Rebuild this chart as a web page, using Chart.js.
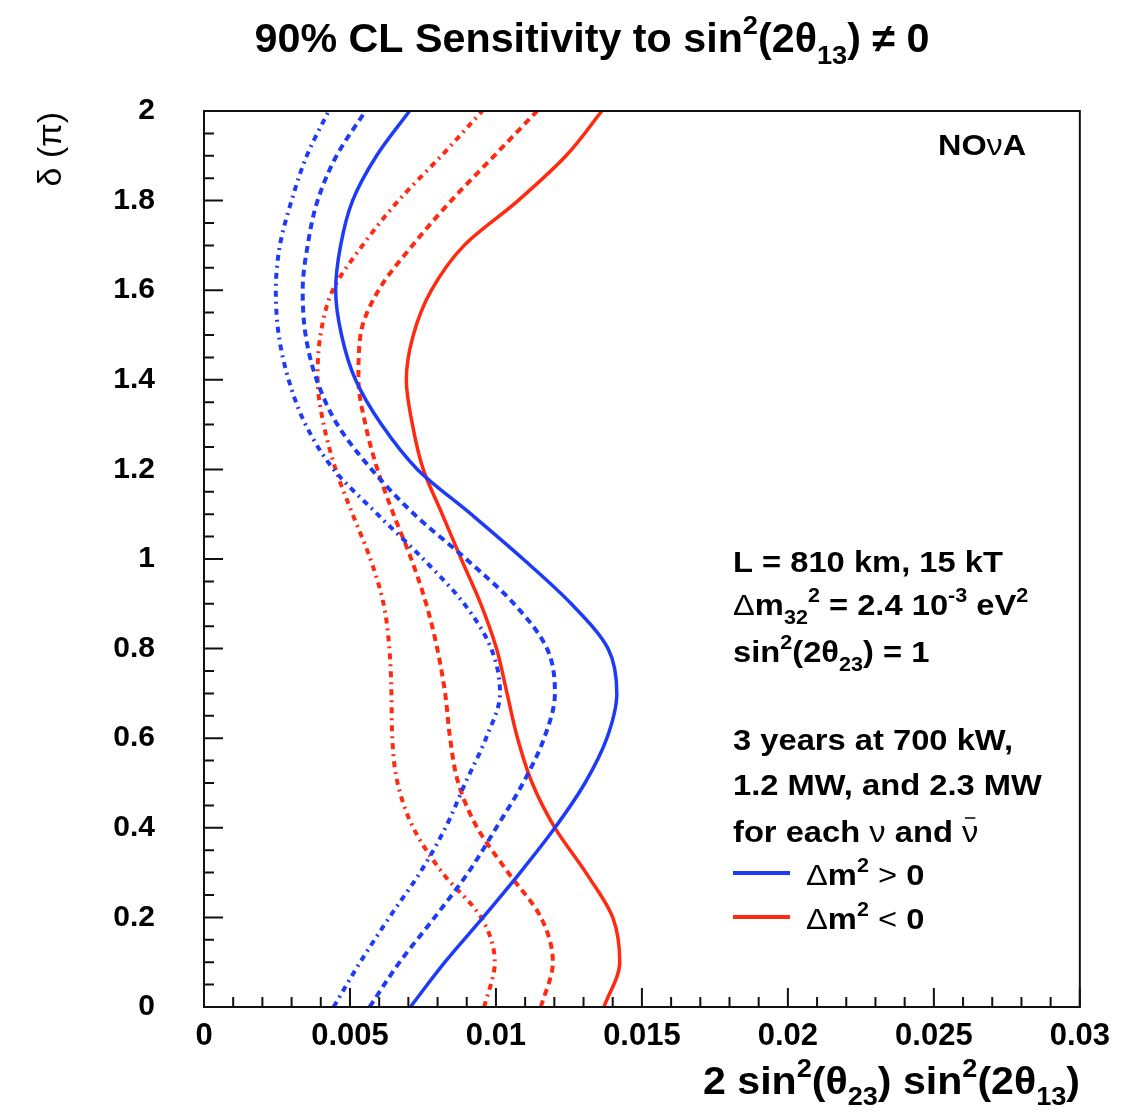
<!DOCTYPE html>
<html>
<head>
<meta charset="utf-8">
<script src="https://cdn.jsdelivr.net/npm/chart.js@4.4.1/dist/chart.umd.min.js"></script>
<style>
  html, body { margin: 0; padding: 0; background: #fff; }
</style>
</head>
<body>
<canvas id="myChart" width="1121" height="1112"></canvas>
<script>
// delta in units of pi (y axis)
const deltaPi = [0, 0.1, 0.2, 0.3, 0.4, 0.5, 0.6, 0.7, 0.8, 0.9, 1.0,
                 1.1, 1.2, 1.3, 1.4, 1.5, 1.6, 1.7, 1.8, 1.9, 2.0];

// 2 sin^2(theta23) sin^2(2 theta13) at each delta
const blueSolid = [0.00707, 0.00825, 0.00956, 0.01083, 0.01202, 0.01305, 0.01380, 0.01414, 0.01384, 0.01258, 0.01093,
                   0.00915, 0.00731, 0.00608, 0.00519, 0.00471, 0.00451, 0.00468, 0.00509, 0.00591, 0.00704];
const blueDashed = [0.00567, 0.00670, 0.00790, 0.00905, 0.01001, 0.01093, 0.01165, 0.01202, 0.01175, 0.01062, 0.00898,
                    0.00720, 0.00574, 0.00457, 0.00386, 0.00348, 0.00338, 0.00355, 0.00389, 0.00454, 0.00553];
const blueDashDot = [0.00444, 0.00535, 0.00635, 0.00740, 0.00827, 0.00895, 0.00966, 0.01014, 0.00984, 0.00891, 0.00751,
                     0.00594, 0.00444, 0.00348, 0.00290, 0.00256, 0.00246, 0.00260, 0.00300, 0.00352, 0.00427];
const redSolid = [0.01370, 0.01424, 0.01400, 0.01308, 0.01202, 0.01124, 0.01074, 0.01038, 0.01002, 0.00948, 0.00881,
                  0.00816, 0.00751, 0.00714, 0.00693, 0.00717, 0.00779, 0.00891, 0.01076, 0.01240, 0.01363];
const redDashed = [0.01154, 0.01195, 0.01154, 0.01042, 0.00936, 0.00871, 0.00843, 0.00826, 0.00799, 0.00761, 0.00710,
                   0.00649, 0.00594, 0.00553, 0.00529, 0.00536, 0.00598, 0.00714, 0.00847, 0.00994, 0.01141];
const redDashDot = [0.00960, 0.00996, 0.00949, 0.00816, 0.00717, 0.00663, 0.00645, 0.00642, 0.00635, 0.00615, 0.00570,
                    0.00509, 0.00451, 0.00410, 0.00389, 0.00399, 0.00441, 0.00543, 0.00666, 0.00813, 0.00953];

const xTickLabels = ["0", "0.005", "0.01", "0.015", "0.02", "0.025", "0.03"];
const yTickLabels = ["0", "0.2", "0.4", "0.6", "0.8", "1", "1.2", "1.4", "1.6", "1.8", "2"];

const BLUE = "#1e3cf8";
const RED = "#ff2a10";
const FONT = '"Liberation Sans", Arial, sans-serif';

function toPoints(vals) {
  return vals.map((v, i) => ({ x: v, y: deltaPi[i] }));
}

function curve(label, vals, color, dash, width) {
  return {
    label: label,
    data: toPoints(vals),
    borderColor: color,
    borderWidth: width,
    borderDash: dash,
    pointRadius: 0,
    fill: false,
    cubicInterpolationMode: "monotone",
  };
}

// rich text helpers (super/subscripts)
const N = (t) => ({ t, k: "n", w: "bold" });
const R = (t) => ({ t, k: "n", w: "normal" });
const SUP = (t) => ({ t, k: "sup", w: "bold" });
const SUB = (t) => ({ t, k: "sub", w: "bold" });

function fontFor(p, size) {
  const s = p.k === "n" ? size : size * 0.66;
  return p.w + " " + s + "px " + FONT;
}
function richWidth(ctx, parts, size) {
  let w = 0;
  parts.forEach((p) => {
    ctx.font = fontFor(p, size);
    w += ctx.measureText(p.t).width;
  });
  return w;
}
// sx: horizontal stretch of the text
function drawRich(ctx, parts, x, y, size, align, sx) {
  sx = sx || 1;
  const w = richWidth(ctx, parts, size) * sx;
  let x0 = x;
  if (align === "right") x0 = x - w;
  if (align === "center") x0 = x - w / 2;
  ctx.save();
  ctx.translate(x0, y);
  ctx.scale(sx, 1);
  ctx.textAlign = "left";
  ctx.textBaseline = "alphabetic";
  let cx = 0;
  parts.forEach((p) => {
    ctx.font = fontFor(p, size);
    const dy = p.k === "sup" ? -size * 0.45 : p.k === "sub" ? size * 0.3 : 0;
    ctx.fillText(p.t, cx, dy);
    cx += ctx.measureText(p.t).width;
  });
  ctx.restore();
  return x0 + w;
}

const decorPlugin = {
  id: "decor",
  afterDraw(chart) {
    const ctx = chart.ctx;
    const a = chart.chartArea;
    const xs = chart.scales.x;
    const ys = chart.scales.y;
    ctx.save();

    // frame
    ctx.strokeStyle = "#111";
    ctx.lineWidth = 2;
    ctx.strokeRect(a.left, a.top, a.right - a.left, a.bottom - a.top);

    // inner ticks
    ctx.beginPath();
    for (let i = 0; i <= 30; i++) {
      const px = xs.getPixelForValue(i * 0.001);
      const len = i % 5 === 0 ? 19 : 10;
      ctx.moveTo(px, a.bottom);
      ctx.lineTo(px, a.bottom - len);
    }
    for (let i = 0; i <= 40; i++) {
      const py = ys.getPixelForValue(i * 0.05);
      const len = i % 4 === 0 ? 19 : 10;
      ctx.moveTo(a.left, py);
      ctx.lineTo(a.left + len, py);
    }
    ctx.stroke();

    ctx.fillStyle = "#000";

    // title, fitted to the reference width
    const title = [N("90% CL Sensitivity to sin"), SUP("2"), N("(2θ"), SUB("13"), N(") ≠ 0")];
    const tsz = 40;
    drawRich(ctx, title, 592, 52, tsz, "center", 675 / richWidth(ctx, title, tsz));

    // x axis title
    const xt = [N("2 sin"), SUP("2"), N("(θ"), SUB("23"), N(") sin"), SUP("2"), N("(2θ"), SUB("13"), N(")")];
    const xsz = 38;
    drawRich(ctx, xt, 1080, 1094, xsz, "right", 377 / richWidth(ctx, xt, xsz));

    // y axis title
    ctx.save();
    ctx.translate(61, 112);
    ctx.rotate(-Math.PI / 2);
    drawRich(ctx, [R("δ (π)")], 0, 0, 34, "right");
    ctx.restore();

    // experiment label
    drawRich(ctx, [N("NO"), R("ν"), N("A")], 938, 155, 30, "left", 1.08);

    // parameter text
    const fs = 30;
    const sx = 1.09;
    const tx = 733;
    drawRich(ctx, [N("L = 810 km, 15 kT")], tx, 572, fs, "left", sx);
    drawRich(ctx, [R("Δ"), N("m"), SUB("32"), SUP("2"), N(" = 2.4 10"), SUP("-3"), N(" eV"), SUP("2")], tx, 615, fs, "left", sx);
    drawRich(ctx, [N("sin"), SUP("2"), N("(2θ"), SUB("23"), N(") = 1")], tx, 662, fs, "left", sx);
    drawRich(ctx, [N("3 years at 700 kW,")], tx, 750, fs, "left", sx);
    drawRich(ctx, [N("1.2 MW, and 2.3 MW")], tx, 795, fs, "left", sx);
    const ex = drawRich(ctx, [N("for each "), R("ν"), N(" and ")], tx, 842, fs, "left", sx);
    const ex2 = drawRich(ctx, [R("ν")], ex, 842, fs, "left", sx);
    ctx.lineWidth = 1.5;
    ctx.strokeStyle = "#000";
    ctx.beginPath();
    ctx.moveTo(ex + 3, 818);
    ctx.lineTo(ex2 - 3, 818);
    ctx.stroke();

    // legend
    const rows = [
      { color: BLUE, y: 873, parts: [R("Δ"), N("m"), SUP("2"), R(" > "), N("0")] },
      { color: RED, y: 917, parts: [R("Δ"), N("m"), SUP("2"), R(" < "), N("0")] },
    ];
    rows.forEach((r) => {
      ctx.strokeStyle = r.color;
      ctx.lineWidth = 4;
      ctx.beginPath();
      ctx.moveTo(733, r.y);
      ctx.lineTo(790, r.y);
      ctx.stroke();
      drawRich(ctx, r.parts, 806, r.y + 12, fs, "left", sx);
    });

    ctx.restore();
  },
};

const config = {
  type: "line",
  data: {
    datasets: [
      curve("Δm² > 0", blueSolid, BLUE, [], 3.5),
      curve("Δm² > 0 (dashed)", blueDashed, BLUE, [7, 5], 4),
      curve("Δm² > 0 (dash-dot)", blueDashDot, BLUE, [6, 5, 2, 5], 4),
      curve("Δm² < 0", redSolid, RED, [], 3.5),
      curve("Δm² < 0 (dashed)", redDashed, RED, [7, 5], 4),
      curve("Δm² < 0 (dash-dot)", redDashDot, RED, [6, 5, 2, 5], 4),
    ],
  },
  options: {
    responsive: false,
    animation: false,
    devicePixelRatio: 1,
    indexAxis: "y",
    layout: { padding: { top: 111, right: 38, left: 0, bottom: 0 } },
    plugins: {
      legend: { display: false },
      title: { display: false },
      tooltip: { enabled: false },
    },
    scales: {
      x: {
        type: "linear",
        min: 0,
        max: 0.03,
        grid: { display: false, drawTicks: false, tickLength: 0 },
        border: { display: false },
        ticks: {
          stepSize: 0.005,
          maxRotation: 0,
          autoSkip: false,
          padding: 11,
          color: "#000",
          font: { family: FONT, size: 31, weight: "bold" },
          callback: (value) => xTickLabels[Math.round(value / 0.005)],
        },
        afterFit: (scale) => { scale.height = 105; },
      },
      y: {
        type: "linear",
        min: 0,
        max: 2,
        grid: { display: false, drawTicks: false, tickLength: 0 },
        border: { display: false },
        ticks: {
          stepSize: 0.2,
          autoSkip: false,
          padding: 49,
          color: "#000",
          font: { family: FONT, size: 30, weight: "bold" },
          callback: (value) => yTickLabels[Math.round(value / 0.2)],
        },
        afterFit: (scale) => { scale.width = 204; },
      },
    },
  },
  plugins: [decorPlugin],
};

const ctx = document.getElementById("myChart").getContext("2d");
const myChart = new Chart(ctx, config);
</script>
</body>
</html>
